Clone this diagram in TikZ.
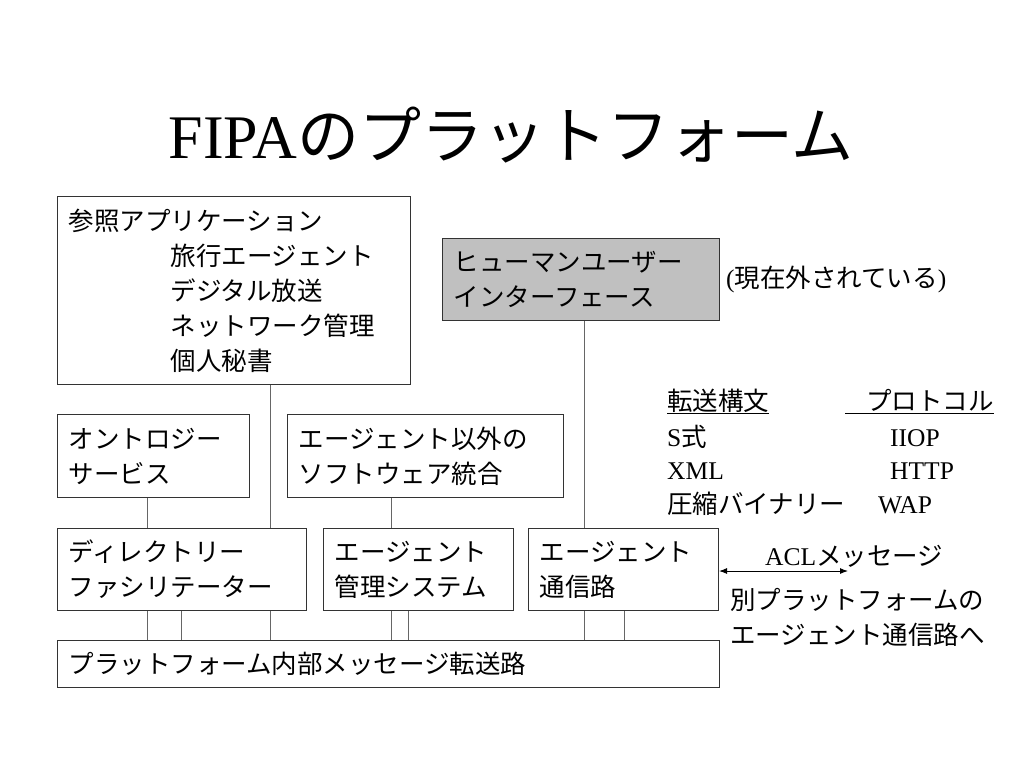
\documentclass[tikz,border=0pt]{standalone}
\usepackage{fontspec}
\setmainfont{Liberation Serif}
\newfontfamily\jp{Noto Sans CJK JP}
\usepackage{tikz}
\usetikzlibrary{positioning,arrows.meta}

\definecolor{huigray}{RGB}{192,192,192}
\newcommand{\bodysize}{\fontsize{25.5}{35}\selectfont}

\tikzset{
  box/.style={rectangle, draw=black!80, line width=1pt, align=left,
    inner xsep=11pt, inner ysep=0pt, anchor=north west, font=\bodysize\jp},
  txt/.style={inner sep=0pt, font=\bodysize},
}

\begin{document}
\begin{tikzpicture}[x=1pt,y=-1pt]
\useasboundingbox (0,0) rectangle (1024,768);
%% Title
\node[inner sep=0pt, anchor=base, font=\fontsize{62}{70}\selectfont] (title) at (511,158) {FIPA{\jp のプラットフォーム}};

%% Nodes definition
\node[box, text width=331pt, minimum height=188pt] (app) at (57,196)
  {参照アプリケーション\\
   \hspace*{102pt}旅行エージェント\\
   \hspace*{102pt}デジタル放送\\
   \hspace*{102pt}ネットワーク管理\\
   \hspace*{102pt}個人秘書};
\node[box, fill=huigray, text width=255pt, minimum height=82pt] (hui) at (442,238)
  {ヒューマンユーザー\\インターフェース};
\node[txt, anchor=west, right = 6pt of hui] (removed) {({\jp 現在外されている})};
\node[box, text width=170pt, minimum height=83pt, below = 29pt of app.south west, anchor=north west] (onto)
  {オントロジー\\サービス};
\node[box, text width=254pt, minimum height=83pt, right = 37pt of onto.north east, anchor=north west] (nonagent)
  {エージェント以外の\\ソフトウェア統合};
\node[box, text width=227pt, minimum height=82pt, below = 30pt of onto.south west, anchor=north west] (df)
  {ディレクトリー\\ファシリテーター};
\node[box, text width=168pt, minimum height=82pt, right = 16pt of df.north east, anchor=north west] (ams)
  {エージェント\\管理システム};
\node[box, text width=168pt, minimum height=82pt, right = 14pt of ams.north east, anchor=north west] (acc)
  {エージェント\\通信路};
\node[box, text width=640pt, minimum height=47pt, below = 29pt of df.south west, anchor=north west] (bus)
  {プラットフォーム内部メッセージ転送路};

%% Table of syntax and protocols
\node[txt, anchor=base west] (hsyntax) at (667,410) {\jp 転送構文};
\node[txt, anchor=base west] (hproto) at (866,410) {\jp プロトコル};
\node[txt, anchor=base west] (sexpr) at (667,446) {S{\jp 式}};
\node[txt, anchor=base west] (iiop) at (890,446) {IIOP};
\node[txt, anchor=base west] (xml) at (667,479) {XML};
\node[txt, anchor=base west] (http) at (890,479) {HTTP};
\node[txt, anchor=base west] (binary) at (667,513) {\jp 圧縮バイナリー};
\node[txt, anchor=base west] (wap) at (878,513) {WAP};
\draw[line width=1pt] ([yshift=-3pt]hsyntax.base west) -- ([yshift=-3pt]hsyntax.base east);
\draw[line width=1pt] ([xshift=-21pt,yshift=-3pt]hproto.base west) -- ([yshift=-3pt]hproto.base east);

%% Other platform
\coordinate (aclend) at (848,571);
\node[txt, anchor=base west] (acl) at (765,565) {ACL{\jp メッセージ}};
\node[txt, anchor=north west, align=left, font=\bodysize\jp] (other) at (730,588)
  {別プラットフォームの\\エージェント通信路へ};

%% Edges definition
\path[every edge/.append style={draw=black!60, line width=1pt}]
    (app.south -| 270,0) edge (df.north -| 270,0)
    (onto.south -| 147,0) edge (df.north -| 147,0)
    (nonagent.south -| 391,0) edge (ams.north -| 391,0)
    (hui.south -| 584,0) edge (acc.north -| 584,0)
    (df.south -| 147,0) edge (bus.north -| 147,0)
    (df.south -| 181,0) edge (bus.north -| 181,0)
    (df.south -| 270,0) edge (bus.north -| 270,0)
    (ams.south -| 391,0) edge (bus.north -| 391,0)
    (ams.south -| 408,0) edge (bus.north -| 408,0)
    (acc.south -| 584,0) edge (bus.north -| 584,0)
    (acc.south -| 624,0) edge (bus.north -| 624,0)
    ;
\path[every edge/.append style={>={Latex[length=8pt,width=6pt]}}]
    (acc.east |- aclend) edge [<->, line width=1pt] (aclend);
\end{tikzpicture}
\end{document}
